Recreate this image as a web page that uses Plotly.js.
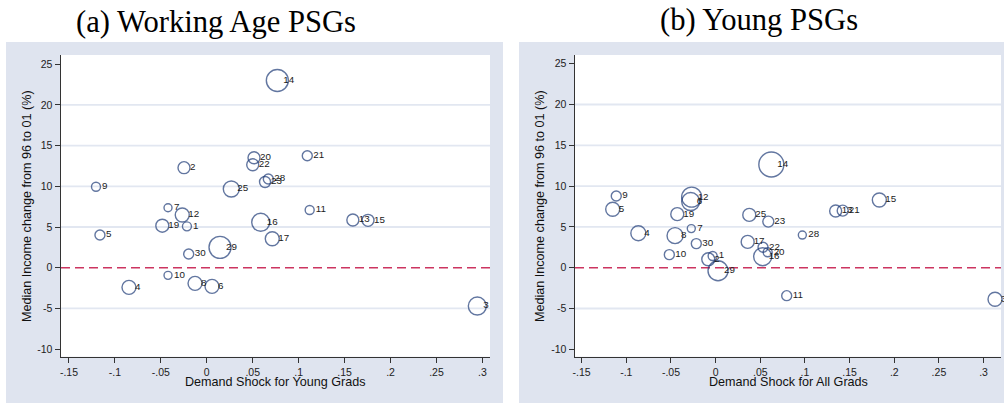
<!DOCTYPE html>
<html>
<head>
<meta charset="utf-8">
<script src="https://cdn.plot.ly/plotly-3.0.1.min.js"></script>
<style>html,body{margin:0;padding:0;background:#fff;}#chart{width:1004px;height:403px;}</style>
</head>
<body>
<div id="chart"></div>
<script>
// ---- Panel (a): Working Age PSGs ----
const labelsA = ["1","2","3","4","5","6","7","8","9","10","11","12","13","14","15","16","17","19","20","21","22","23","25","28","29","30"];
const shockA  = [-0.0216,-0.0248,0.2945,-0.0847,-0.1163,0.0057,-0.0422,-0.0128,-0.1206,-0.0422,0.1120,-0.0267,0.1590,0.0768,0.1755,0.0587,0.0713,-0.0484,0.0514,0.1094,0.0500,0.0634,0.0267,0.0670,0.0144,-0.0197];
const incomeA = [5.08,12.29,-4.71,-2.41,4.02,-2.29,7.37,-1.92,9.95,-0.94,7.09,6.47,5.86,23.0,5.82,5.58,3.56,5.16,13.51,13.76,12.65,10.53,9.67,10.90,2.50,1.68];
const weightA = [9,12,18,14,10,14,8,14,9,8,9,14,12,22,12,18,14,13,12,10,12,11,16,10,22,10];

// ---- Panel (b): Young PSGs ----
const labelsB = ["1","2","3","4","5","6","7","8","9","10","11","12","13","14","15","16","17","19","20","21","22","23","25","28","29","30"];
const shockB  = [-0.0033,-0.0082,0.3128,-0.0865,-0.1152,-0.0279,-0.0272,-0.0454,-0.1112,-0.0518,0.0796,-0.0268,0.1344,0.0624,0.1833,0.0527,0.0359,-0.0429,0.0583,0.1423,0.0531,0.0590,0.0377,0.0971,0.0027,-0.0216];
const incomeB = [1.43,1.03,-3.87,4.22,7.16,8.11,4.79,3.93,8.79,1.60,-3.43,8.65,6.95,12.65,8.30,1.35,3.16,6.56,1.89,6.99,2.50,5.65,6.47,4.00,-0.37,2.95];
const weightB = [9,13,14,15,14,18,8,16,10,10,10,20,12,25,14,18,13,13,9,11,10,11,13,8,20,10];

// ---- Axes ----
const xTickVals = [-0.15,-0.1,-0.05,0,0.05,0.1,0.15,0.2,0.25,0.3];
const xTickText = ["-.15","-.1","-.05","0",".05",".1",".15",".2",".25",".3"];
const yTickVals = [-10,-5,0,5,10,15,20,25];
const yTickText = ["-10","-5","0","5","10","15","20","25"];
const gridVals  = [-5,5,10,15,20];
const refLine   = 0;

const titleA = "(a) Working Age PSGs";
const titleB = "(b) Young PSGs";
const xTitleA = "Demand Shock for Young Grads";
const xTitleB = "Demand Shock for All Grads";
const yTitle  = "Median Income change from 96 to 01 (%)";

// ---- layout helpers (pixel -> paper) ----
const W = 1004, H = 403;
const px = v => v / W;
const py = v => 1 - v / H;

const navy = "#1f3c78";
const sans = "Liberation Sans, Arial, sans-serif";

function bubbles(x, y, s, xa, ya) {
  return {type:"scatter", mode:"markers", x:x, y:y, xaxis:xa, yaxis:ya,
    marker:{symbol:"circle-open", size:s, color:navy, line:{width:1.4, color:navy}},
    hoverinfo:"skip", showlegend:false, cliponaxis:false};
}
function labels(x, y, t, xa, ya) {
  return {type:"scatter", mode:"markers+text", x:x, y:y, text:t, xaxis:xa, yaxis:ya,
    textposition:"middle right", textfont:{family:sans, size:9.8, color:"#1a1a1a"},
    marker:{size:8, opacity:0, color:"rgba(0,0,0,0)"},
    hoverinfo:"skip", showlegend:false, cliponaxis:false};
}

const data = [
  bubbles(shockA, incomeA, weightA, "x", "y"),
  labels(shockA, incomeA, labelsA, "x", "y"),
  bubbles(shockB, incomeB, weightB, "x2", "y2"),
  labels(shockB, incomeB, labelsB, "x2", "y2")
];

const yDom = [py(356.7), py(55)];
function xAxis(dom, range) {
  return {domain:dom, range:range, tickvals:xTickVals, ticktext:xTickText,
    ticks:"outside", ticklen:5, tickwidth:1, tickcolor:"#333",
    showline:true, linecolor:"#333", linewidth:1.5, showgrid:false, zeroline:false,
    tickfont:{family:sans, size:10.5, color:"#222"}, fixedrange:true};
}
function yAxis(anchor, range) {
  return {domain:yDom, range:range, anchor:anchor, tickvals:yTickVals, ticktext:yTickText,
    ticks:"outside", ticklen:5, tickwidth:1, tickcolor:"#333",
    showline:true, linecolor:"#333", linewidth:1.5, showgrid:false, zeroline:false,
    tickfont:{family:sans, size:10.5, color:"#222"}, fixedrange:true};
}

const shapes = [
  {type:"rect", xref:"paper", yref:"paper", x0:px(6), x1:px(503), y0:0, y1:py(42), fillcolor:"#dfe4ef", line:{width:0}, layer:"below"},
  {type:"rect", xref:"paper", yref:"paper", x0:px(519), x1:px(1004), y0:0, y1:py(42), fillcolor:"#dfe4ef", line:{width:0}, layer:"below"},
  {type:"rect", xref:"x domain", yref:"y domain", x0:0, x1:1, y0:0, y1:1, fillcolor:"#ffffff", line:{width:0}, layer:"below"},
  {type:"rect", xref:"x2 domain", yref:"y2 domain", x0:0, x1:1, y0:0, y1:1, fillcolor:"#ffffff", line:{width:0}, layer:"below"}
];
[["x","y"],["x2","y2"]].forEach(([xa, ya]) => {
  gridVals.forEach(v => shapes.push({type:"line", xref:xa+" domain", yref:ya, x0:0, x1:1, y0:v, y1:v,
    line:{color:"#e2e7f1", width:1.8}, layer:"below"}));
  shapes.push({type:"line", xref:xa+" domain", yref:ya, x0:0, x1:1, y0:refLine, y1:refLine,
    line:{color:"#cc3560", width:1.6, dash:"9px,5px"}, layer:"below"});
});

const annotations = [
  {text:titleA, xref:"paper", yref:"paper", x:px(216), y:py(22), xanchor:"center", yanchor:"middle", showarrow:false,
   font:{family:"Liberation Serif, Times New Roman, serif", size:30.6, color:"#000"}},
  {text:titleB, xref:"paper", yref:"paper", x:px(759), y:py(20), xanchor:"center", yanchor:"middle", showarrow:false,
   font:{family:"Liberation Serif, Times New Roman, serif", size:30.6, color:"#000"}},
  {text:xTitleA, xref:"paper", yref:"paper", x:px(275.5), y:py(381.5), xanchor:"center", yanchor:"middle", showarrow:false,
   font:{family:sans, size:12.6, color:"#111"}},
  {text:xTitleB, xref:"paper", yref:"paper", x:px(788), y:py(381.5), xanchor:"center", yanchor:"middle", showarrow:false,
   font:{family:sans, size:12.6, color:"#111"}},
  {text:yTitle, xref:"paper", yref:"paper", x:px(27), y:py(206), xanchor:"center", yanchor:"middle", textangle:-90, showarrow:false,
   font:{family:sans, size:12.6, color:"#111"}},
  {text:yTitle, xref:"paper", yref:"paper", x:px(540), y:py(206), xanchor:"center", yanchor:"middle", textangle:-90, showarrow:false,
   font:{family:sans, size:12.6, color:"#111"}}
];

const layout = {
  width:W, height:H, margin:{l:0, r:0, t:0, b:0},
  paper_bgcolor:"#ffffff", plot_bgcolor:"rgba(0,0,0,0)",
  showlegend:false,
  xaxis: xAxis([px(61), px(490)], [-0.1587, 0.3083]),
  yaxis: yAxis("x", [-10.93, 26.13]),
  xaxis2: Object.assign(xAxis([px(575), px(1001)], [-0.1574, 0.3195]), {anchor:"y2"}),
  yaxis2: yAxis("x2", [-10.91, 26.07]),
  shapes: shapes,
  annotations: annotations
};
layout.xaxis.anchor = "y";

Plotly.newPlot("chart", data, layout, {displayModeBar:false, staticPlot:true});
</script>
</body>
</html>
